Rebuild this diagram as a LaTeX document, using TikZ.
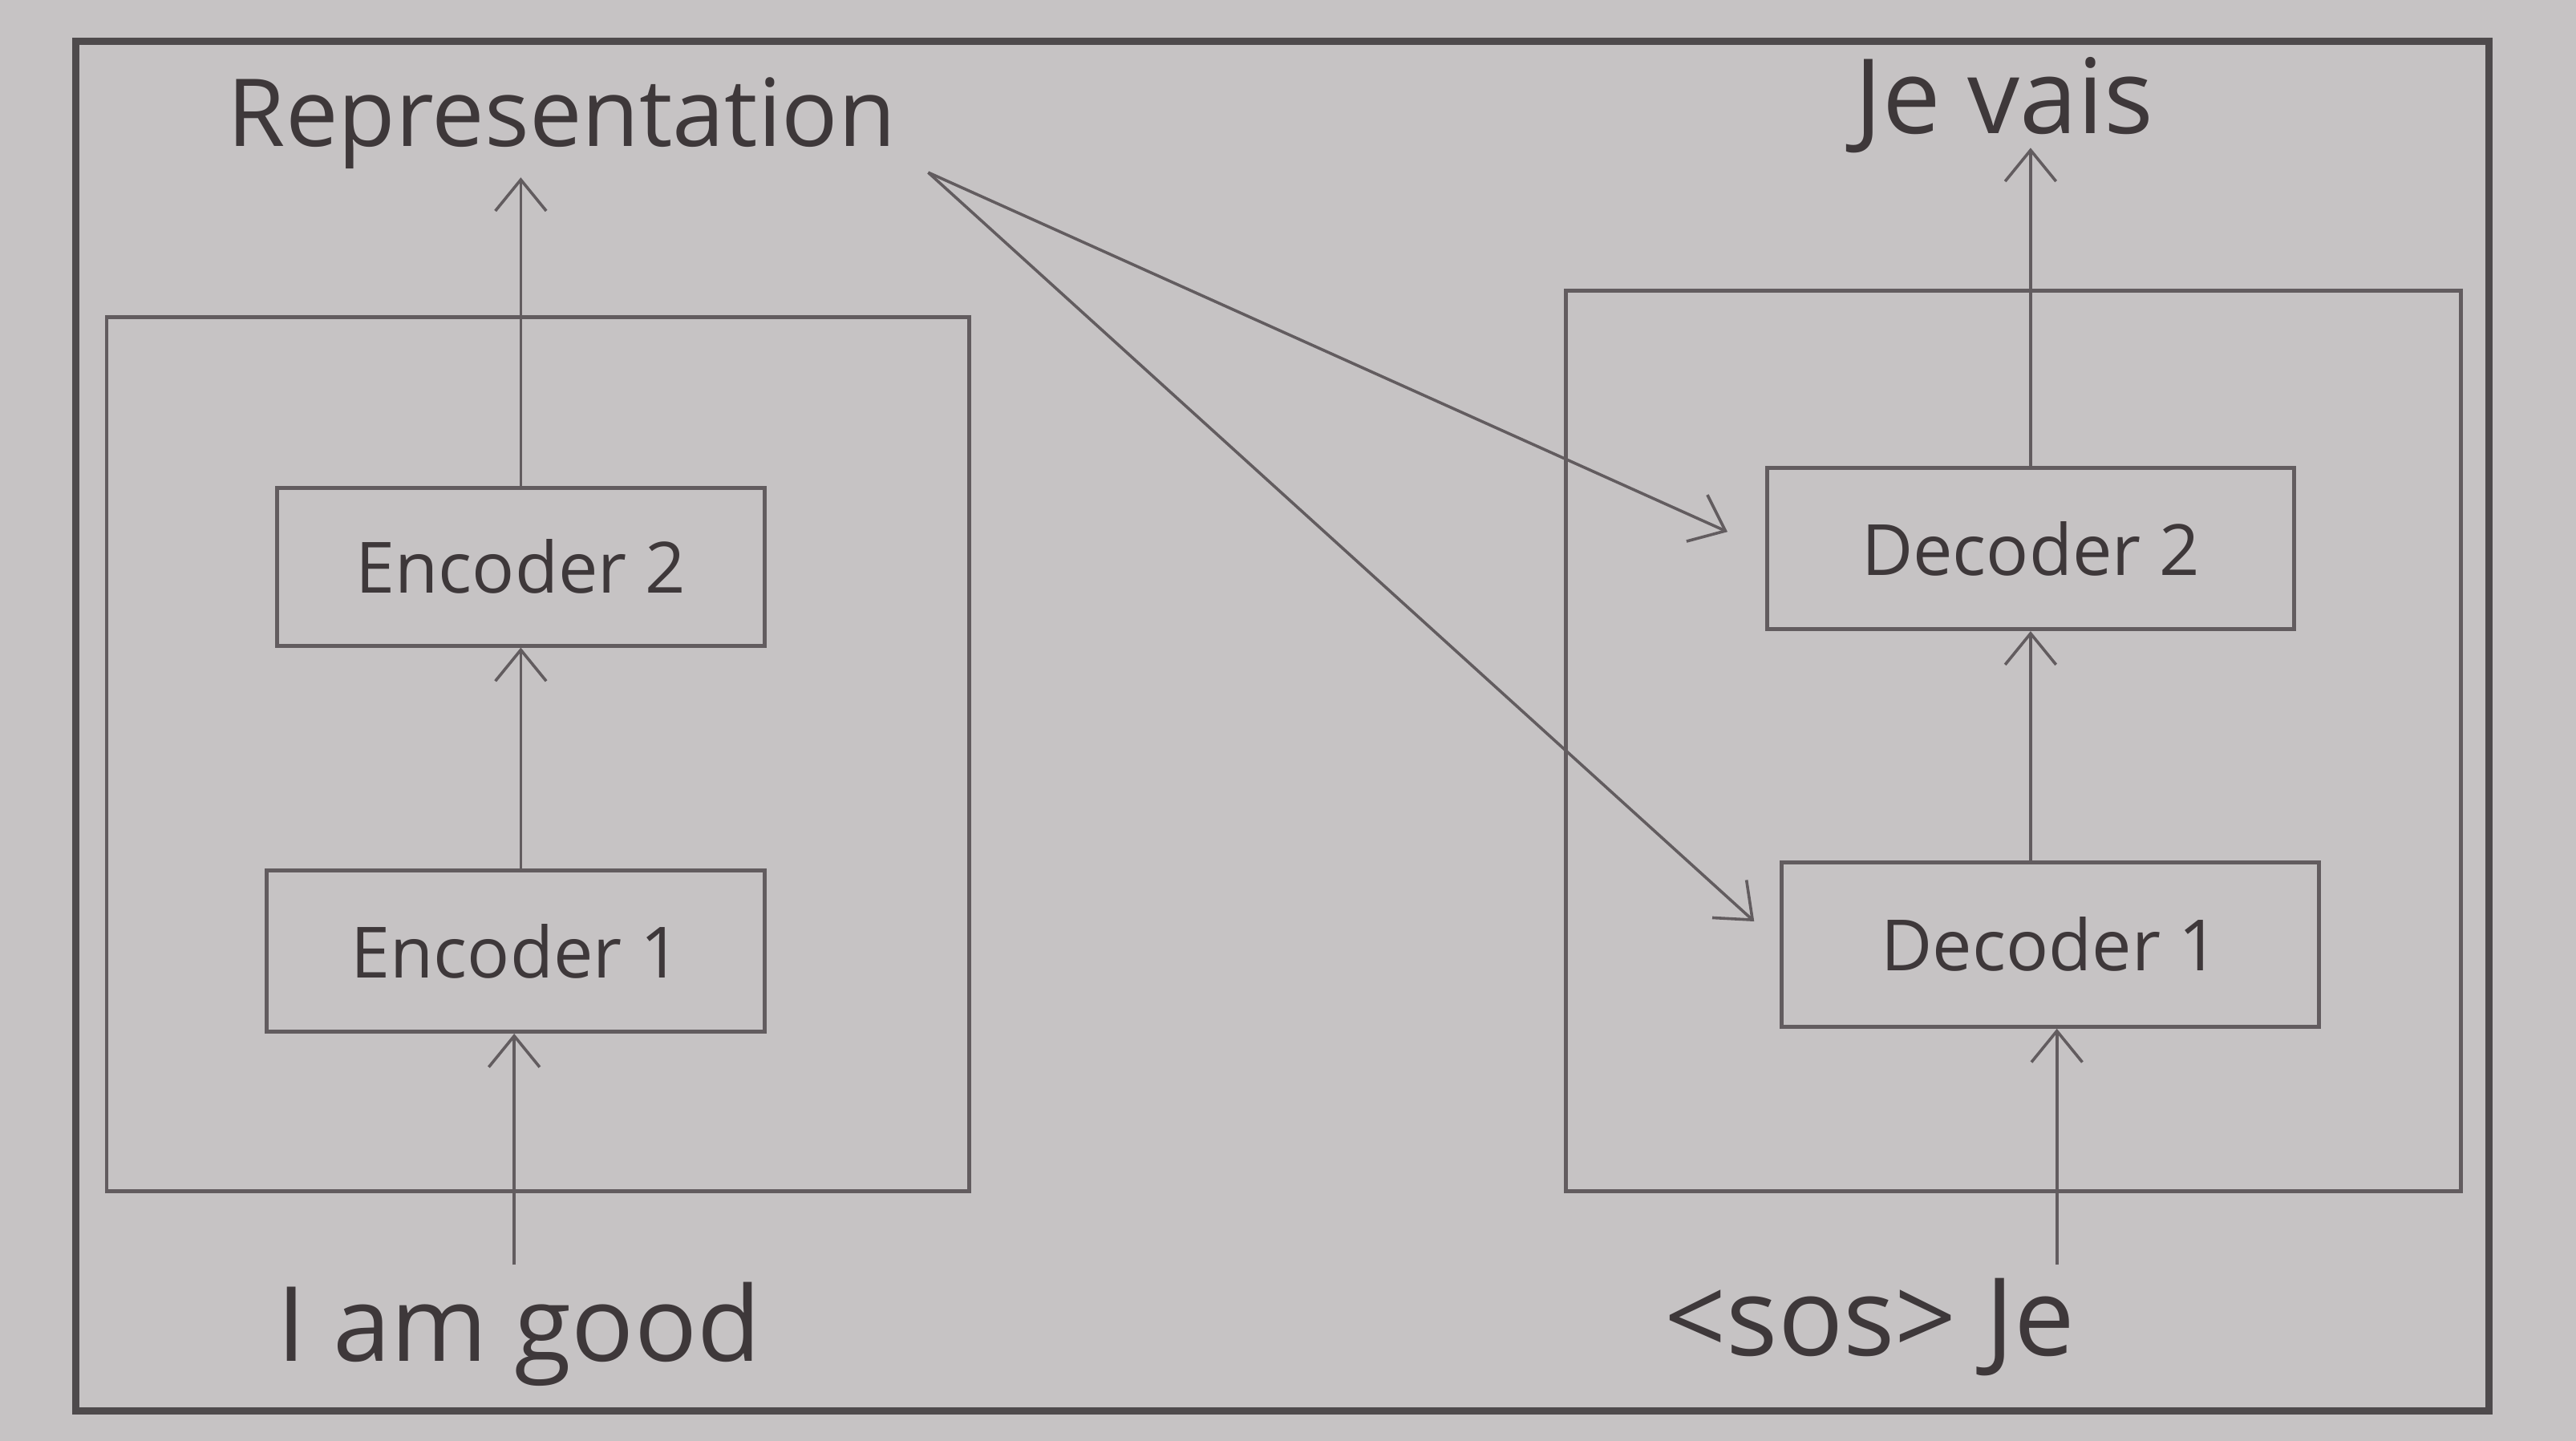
\documentclass[tikz,border=0pt]{standalone}
\usepackage{fontspec}
\setmainfont{Open Sans}
\usetikzlibrary{arrows.meta}
\definecolor{paper}{RGB}{198,195,196}
\definecolor{ink}{RGB}{62,56,58}
\definecolor{lineink}{RGB}{98,92,95}
\tikzset{
  blk/.style={draw=lineink, line width=1.4pt, text=ink, font=\fontsize{24.5}{25}\selectfont, inner sep=0pt},
  lbl/.style={text=ink, inner sep=0pt},
  arr/.style={draw=lineink, line width=1pt, -{Straight Barb[length=0.38cm,width=0.62cm,line width=1pt]}},
}
\begin{document}
\begin{tikzpicture}[x=0.02cm,y=-0.02cm]
\useasboundingbox[fill=paper] (0,0) rectangle (1568,877);
% outer frame
\draw[lineink!80!black, line width=2.6pt] (46,25) rectangle (1515,859);
% group boxes
\draw[lineink, line width=1.3pt] (65,193) rectangle (590,725);
\draw[lineink, line width=1.3pt] (953,177) rectangle (1498,725);
% blocks
\node[blk, minimum width=5.94cm, minimum height=1.92cm] (enc2) at (317,345) {Encoder 2};
\node[blk, minimum width=6.06cm, minimum height=1.96cm] (enc1) at (314,579) {Encoder 1};
\node[blk, minimum width=6.42cm, minimum height=1.96cm] (dec2) at (1236,334) {Decoder 2};
\node[blk, minimum width=6.54cm, minimum height=2.0cm] (dec1) at (1248,575) {Decoder 1};
% labels
\node[lbl, font=\fontsize{32.5}{33}\selectfont] (rep) at (342,75) {Representation};
\node[lbl, font=\fontsize{36}{36}\selectfont] (out) at (1220,64) {Je vais};
\node[lbl, font=\fontsize{36}{36}\selectfont] (inp) at (316,812) {I am good};
\node[lbl, font=\fontsize{37.5}{38}\selectfont] (dinp) at (1138,808) {<sos> Je};
\coordinate (repend) at (565,105);
\coordinate (inptop) at (313,770);
\coordinate (reptip) at (318,108);
\coordinate (outtip) at (1225,90);
\coordinate (dinptop) at (1252,770);
% connectors
\draw[arr] (inptop) -- (inptop |- enc1.south);
\draw[arr] (enc1.north -| enc2.south) -- (enc2.south);
\draw[arr] (enc2.north) -- (enc2.north |- reptip);
\draw[arr] (dinptop) -- (dinptop |- dec1.south);
\draw[arr] (dec1.north -| dec2.south) -- (dec2.south);
\draw[arr] (dec2.north) -- (dec2.north |- outtip);
\draw[arr, shorten >=0.5cm] (repend) -- (dec2.west);
\draw[arr, shorten >=0.42cm] (repend) -- (dec1.west);
\end{tikzpicture}
\end{document}
